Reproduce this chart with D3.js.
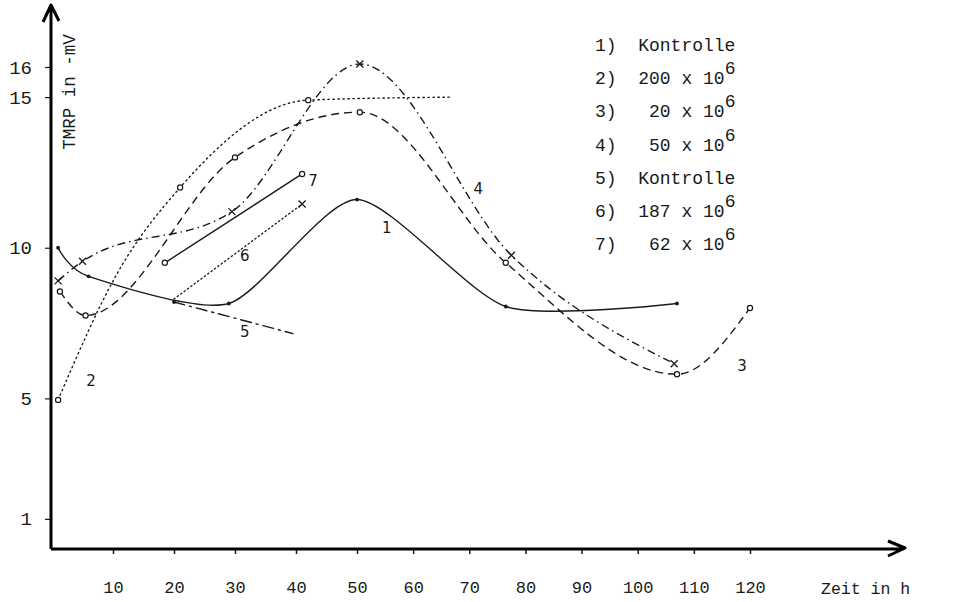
<!DOCTYPE html>
<html>
<head>
<meta charset="utf-8">
<script src="https://cdn.jsdelivr.net/npm/d3@7"></script>
<style>
  body { margin: 0; background: #fff; }
  svg { display: block; }
  text { fill: #1a1a1a; }
</style>
</head>
<body>
<script>
const width = 968;
const height = 602;

// time in h / TMRP in -mV
const hours1 = [1, 6, 29, 50, 76.5, 107];
const mv1 = [10, 9.05, 8.15, 11.6, 8.05, 8.15];

const hours2 = [1, 10.7, 21, 42, 67];
const mv2 = [4.95, 9.15, 12.0, 14.9, 15.0];

const hours3 = [1.3, 5.5, 30, 50.5, 76.5, 107, 120];
const mv3 = [8.55, 7.75, 13.0, 14.5, 9.5, 5.8, 8.0];

const hours4 = [1, 5, 29.5, 50.5, 77.5, 106.5];
const mv4 = [8.9, 9.55, 11.2, 16.1, 9.75, 6.15];

const hours5 = [20, 39.5];
const mv5 = [8.2, 7.15];

const hours6 = [20, 41];
const mv6 = [8.3, 11.45];

const hours7 = [18.5, 41];
const mv7 = [9.5, 12.45];

// curve number labels placed in data space
const curveLabels = ['1', '2', '3', '4', '5', '6', '7'];
const curveLabelHours = [55.3, 6.4, 118.6, 71.6, 31.6, 31.6, 42.8];
const curveLabelMv = [10.65, 5.6, 6.07, 11.97, 7.2, 9.72, 12.24];

const xTicks = [10, 20, 30, 40, 50, 60, 70, 80, 90, 100, 110, 120];
const yTicks = [1, 5, 10, 15, 16];

const legendKeys = ['1)', '2)', '3)', '4)', '5)', '6)', '7)'];
const legendLabels = ['Kontrolle', '200 x 10', ' 20 x 10', ' 50 x 10', 'Kontrolle', '187 x 10', ' 62 x 10'];
const legendExp = ['', '6', '6', '6', '', '6', '6'];

const ink = '#1a1a1a';
const mono = '"Liberation Mono", "DejaVu Sans Mono", monospace';

// hand drawn axis: the right half is a bit compressed
const x = d3.scaleLinear()
  .domain([0, 50, 120])
  .range([52, 357, 750]);

const y = d3.scaleLinear()
  .domain([0, 16])
  .range([549, 67]);

const svg = d3.select('body').append('svg')
  .attr('width', width)
  .attr('height', height);

const series = [
  { h: hours1, v: mv1, dash: null, curve: d3.curveCardinal.tension(0.3), marker: 'dot', marks: [0, 1, 2, 3, 4, 5] },
  { h: hours2, v: mv2, dash: '1.4,3.6', curve: d3.curveMonotoneX, marker: 'circle', marks: [0, 2, 3] },
  { h: hours3, v: mv3, dash: '8,5', curve: d3.curveMonotoneX, marker: 'circle', marks: [0, 1, 2, 3, 4, 5, 6] },
  { h: hours4, v: mv4, dash: '8,4,1.5,4', curve: d3.curveMonotoneX, marker: 'cross', marks: [0, 1, 2, 3, 4, 5] },
  { h: hours5, v: mv5, dash: '11,5,2,5', curve: d3.curveLinear, marker: 'dot', marks: [0] },
  { h: hours6, v: mv6, dash: '1.2,3', curve: d3.curveLinear, marker: 'cross', marks: [1] },
  { h: hours7, v: mv7, dash: null, curve: d3.curveLinear, marker: 'circle', marks: [0, 1] }
];

const line = d3.line()
  .x(d => x(d[0]))
  .y(d => y(d[1]));

series.forEach(s => {
  const pts = s.h.map((h, i) => [h, s.v[i]]);
  svg.append('path')
    .datum(pts)
    .attr('fill', 'none')
    .attr('stroke', ink)
    .attr('stroke-width', 1.4)
    .attr('stroke-linecap', s.dash && s.dash.startsWith('1') ? 'round' : 'butt')
    .attr('stroke-dasharray', s.dash)
    .attr('d', line.curve(s.curve));

  const marked = s.marks.map(i => pts[i]);
  if (s.marker === 'circle') {
    svg.selectAll(null).data(marked).join('circle')
      .attr('cx', d => x(d[0]))
      .attr('cy', d => y(d[1]))
      .attr('r', 2.6)
      .attr('fill', '#fff')
      .attr('stroke', ink)
      .attr('stroke-width', 1.2);
  } else if (s.marker === 'dot') {
    svg.selectAll(null).data(marked).join('circle')
      .attr('cx', d => x(d[0]))
      .attr('cy', d => y(d[1]))
      .attr('r', 1.9)
      .attr('fill', ink);
  } else {
    svg.selectAll(null).data(marked).join('path')
      .attr('transform', d => `translate(${x(d[0])},${y(d[1])})`)
      .attr('d', 'M-3.5,-3.5L3.5,3.5M-3.5,3.5L3.5,-3.5')
      .attr('stroke', ink)
      .attr('stroke-width', 1.3);
  }
});

// curve numbers
svg.selectAll(null).data(curveLabels).join('text')
  .attr('x', (d, i) => x(curveLabelHours[i]))
  .attr('y', (d, i) => y(curveLabelMv[i]))
  .attr('dy', '0.35em')
  .attr('text-anchor', 'middle')
  .attr('font-family', '"DejaVu Sans", sans-serif')
  .attr('font-size', 15)
  .text(d => d);

// axes
const xAxis = svg.append('g')
  .attr('transform', `translate(0, ${y(0)})`)
  .call(d3.axisBottom(x).tickValues(xTicks).tickSize(5).tickPadding(27));
xAxis.select('.domain').remove();
xAxis.selectAll('line').attr('stroke', ink).attr('stroke-width', 1.5);
xAxis.selectAll('text')
  .attr('font-family', mono)
  .attr('font-size', 17)
  .attr('fill', ink);

const yAxis = svg.append('g')
  .attr('transform', `translate(${x(0) - 1}, 0)`)
  .call(d3.axisLeft(y).tickValues(yTicks).tickSize(6).tickPadding(13));
yAxis.select('.domain').remove();
yAxis.selectAll('line').attr('stroke', ink).attr('stroke-width', 1.2);
yAxis.selectAll('text')
  .attr('font-family', mono)
  .attr('font-size', 19)
  .attr('fill', ink);

const x0 = x(0) - 1;
const y0 = y(0);
svg.append('path')
  .attr('d', `M${x0},${y0}L${x0},6M${x0 - 8},22L${x0},5L${x0 + 8},21`)
  .attr('fill', 'none')
  .attr('stroke', '#000')
  .attr('stroke-width', 3)
  .attr('stroke-linejoin', 'round');
svg.append('path')
  .attr('d', `M${x0},${y0}L${width - 64},${y0}M${width - 80},${y0 - 8}L${width - 63},${y0 - 1}L${width - 80},${y0 + 7}`)
  .attr('fill', 'none')
  .attr('stroke', '#000')
  .attr('stroke-width', 3)
  .attr('stroke-linejoin', 'round');

svg.append('text')
  .attr('transform', 'translate(75, 92) rotate(-90)')
  .attr('text-anchor', 'middle')
  .attr('font-family', mono)
  .attr('font-size', 17.5)
  .text('TMRP in -mV');

svg.append('text')
  .attr('x', 821)
  .attr('y', 594)
  .attr('font-family', mono)
  .attr('font-size', 16.5)
  .text('Zeit in h');

// legend
const legend = svg.append('g');
legendKeys.forEach((k, i) => {
  const t = legend.append('text')
    .attr('x', 595)
    .attr('y', 51 + i * 33.2)
    .attr('font-family', mono)
    .attr('font-size', 18)
    .style('white-space', 'pre')
    .text(`${k}  ${legendLabels[i]}`);
  if (legendExp[i]) {
    t.append('tspan')
      .attr('dy', -10)
      .text(legendExp[i]);
  }
});
</script>
</body>
</html>
